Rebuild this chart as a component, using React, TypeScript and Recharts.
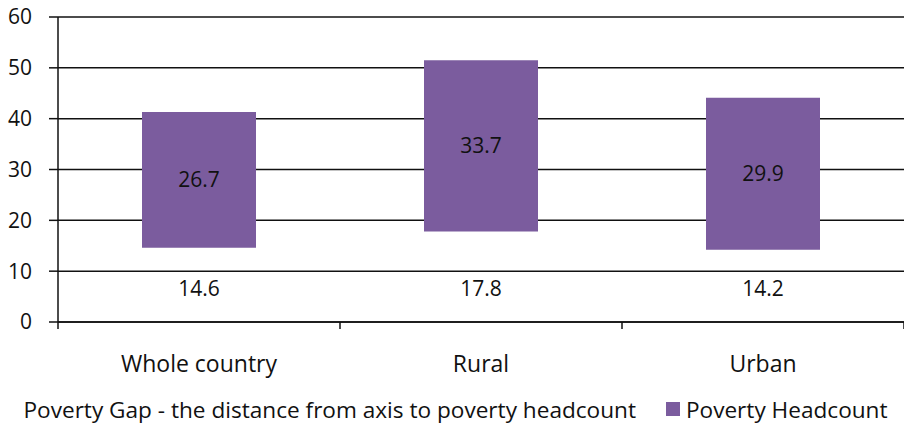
import { BarChart, Bar, XAxis, YAxis, CartesianGrid, Legend, LabelList } from 'recharts';

const categories = ['Whole country', 'Rural', 'Urban'];
const povertyGap = [14.6, 17.8, 14.2];
const povertyHeadcount = [26.7, 33.7, 29.9];
const yTicks = [0, 10, 20, 30, 40, 50, 60];

const data = categories.map((name, i) => ({
  name,
  gap: povertyGap[i],
  headcount: povertyHeadcount[i],
}));

const PURPLE = '#7B5C9E';
const INK = '#111';
const FONT = '"Open Sans", sans-serif';
const X_TICK_SIZE = 7;
const X_TICK_MARGIN = 27;

// category label centred in the band, tick marks on the band edges
function CategoryTick(props: any) {
  const { x, y, payload, index } = props;
  const half = payload?.offset ?? 0;
  const axisY = y - X_TICK_SIZE - X_TICK_MARGIN;
  const isLast = index === categories.length - 1;
  return (
    <g>
      <line x1={x - half} x2={x - half} y1={axisY} y2={axisY + X_TICK_SIZE} stroke={INK} strokeWidth={1.5} />
      {isLast && (
        <line x1={x + half} x2={x + half} y1={axisY} y2={axisY + X_TICK_SIZE} stroke={INK} strokeWidth={1.5} />
      )}
      <text x={x} y={y} dy="0.71em" textAnchor="middle" fill={INK} fontSize={23} fontFamily={FONT}>
        {payload.value}
      </text>
    </g>
  );
}

// gap value sits a fixed distance above the axis inside the hidden bar
function GapLabel(props: any) {
  const { x, y, width, height, value } = props;
  return (
    <text
      x={x + width / 2}
      y={y + height - 34}
      textAnchor="middle"
      dominantBaseline="central"
      fill={INK}
      fontSize={21}
      fontFamily={FONT}
    >
      {value}
    </text>
  );
}

function LegendContent(props: any) {
  const items = props.payload ?? [];
  return (
    <div
      style={{
        display: 'flex',
        justifyContent: 'center',
        alignItems: 'center',
        height: 30,
        fontFamily: FONT,
        fontSize: 22.6,
        color: INK,
        paddingLeft: 7,
      }}
    >
      {items.map((entry: any, i: number) => (
        <span key={i} style={{ display: 'flex', alignItems: 'center', marginLeft: i === 0 ? 0 : 30 }}>
          {entry.dataKey === 'headcount' && (
            <span style={{ display: 'inline-block', width: 14, height: 14, background: PURPLE, marginRight: 6 }} />
          )}
          <span>{entry.value}</span>
        </span>
      ))}
    </div>
  );
}

export default function App() {
  return (
    <div style={{ position: 'absolute', left: 0, top: 0, width: 904, height: 424, background: '#fff' }}>
      <BarChart
        width={904}
        height={424}
        data={data}
        margin={{ top: 17, right: 0, bottom: 0, left: 0 }}
        barSize={114}
        style={{ fontFamily: FONT }}
      >
        <CartesianGrid vertical={false} stroke={INK} strokeWidth={1.5} />
        <XAxis
          dataKey="name"
          height={72}
          axisLine={{ stroke: INK, strokeWidth: 1.5 }}
          tickLine={false}
          tickSize={X_TICK_SIZE}
          tickMargin={X_TICK_MARGIN}
          tick={<CategoryTick />}
          interval={0}
        />
        <YAxis
          domain={[0, 60]}
          ticks={yTicks}
          width={58}
          axisLine={{ stroke: INK, strokeWidth: 1.5 }}
          tickLine={{ stroke: INK, strokeWidth: 1.5 }}
          tickSize={9}
          tickMargin={17}
          tick={{ fill: INK, fontSize: 21, fontFamily: FONT }}
        />
        <Legend verticalAlign="bottom" height={30} content={<LegendContent />} />
        <Bar
          dataKey="gap"
          name="Poverty Gap - the distance from axis to poverty headcount"
          stackId="a"
          fill="transparent"
          isAnimationActive={false}
        >
          <LabelList dataKey="gap" content={<GapLabel />} />
        </Bar>
        <Bar dataKey="headcount" name="Poverty Headcount" stackId="a" fill={PURPLE} isAnimationActive={false}>
          <LabelList dataKey="headcount" position="center" fill={INK} fontSize={21} fontFamily={FONT} />
        </Bar>
      </BarChart>
    </div>
  );
}
